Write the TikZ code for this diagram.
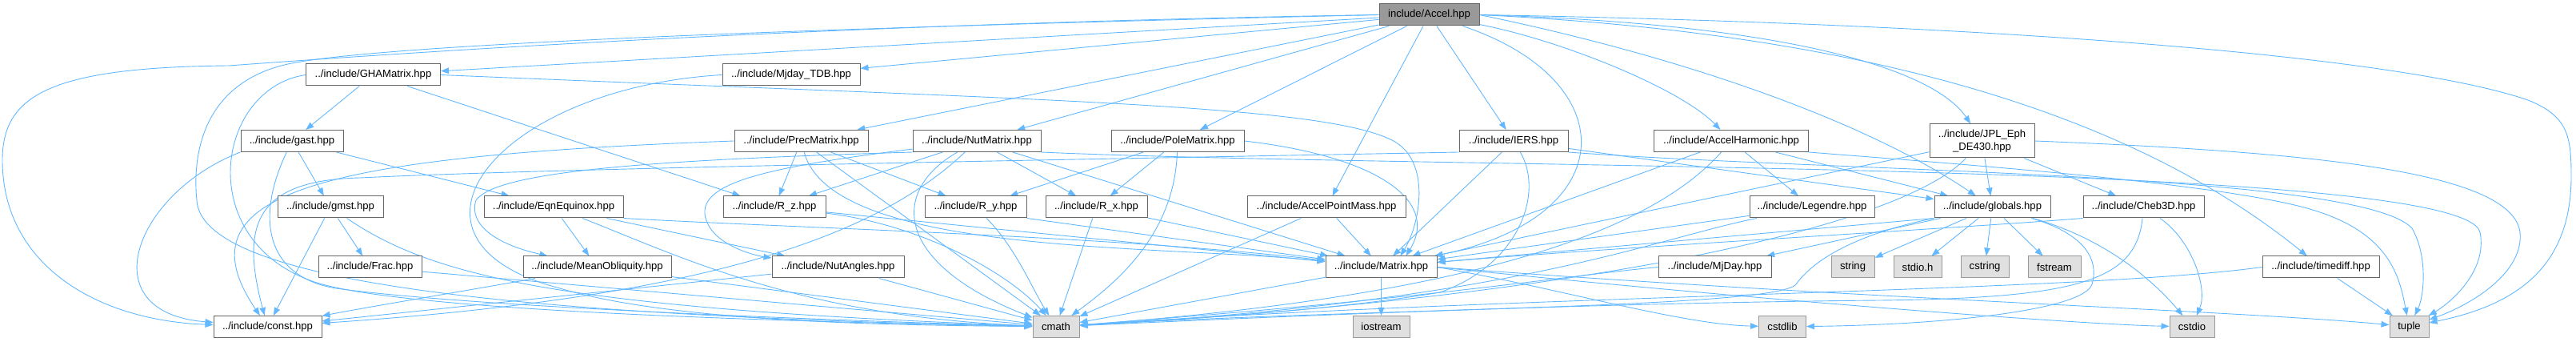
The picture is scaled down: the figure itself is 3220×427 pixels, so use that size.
\documentclass[tikz,border=0pt]{standalone}
\usepackage{fontspec}
\setmainfont{Liberation Sans}
\usetikzlibrary{arrows.meta,backgrounds}
\definecolor{edgec}{HTML}{63B8FF}
\definecolor{bord}{HTML}{666666}
\definecolor{sysbord}{HTML}{999999}
\definecolor{sysfill}{HTML}{E0E0E0}
\definecolor{rootfill}{HTML}{999999}
\begin{document}
\begin{tikzpicture}[x=1pt,y=-1pt,
  nd/.style={draw=bord, fill=white, line width=1pt, inner sep=0pt, minimum height=27pt, font=\fontsize{13.1}{16}\selectfont, text=black},
  sysn/.style={nd, draw=sysbord, fill=sysfill},
  rootn/.style={nd, fill=rootfill},
  edge/.style={draw=edgec, line width=0.9pt, -{Triangle[length=10pt,width=7.5pt]}}]
\useasboundingbox (0,0) rectangle (3220,427);
% nodes
\node[rootn, minimum width=125pt] (Accel) at (1786.5,18.5) {include/Accel.hpp};
\node[nd, minimum width=168pt] (GHA) at (466.5,93.5) {../include/GHAMatrix.hpp};
\node[nd, minimum width=172pt] (Mjday) at (989,93.5) {../include/Mjday\_TDB.hpp};
\node[nd, minimum width=128pt] (gast) at (365,176) {../include/gast.hpp};
\node[nd, minimum width=167pt] (Prec) at (1001.5,176) {../include/PrecMatrix.hpp};
\node[nd, minimum width=160pt] (Nut) at (1221,176) {../include/NutMatrix.hpp};
\node[nd, minimum width=166pt] (Pole) at (1472,176) {../include/PoleMatrix.hpp};
\node[nd, minimum width=136pt] (IERS) at (1892,176) {../include/IERS.hpp};
\node[nd, minimum width=193pt] (AH) at (2164,176) {../include/AccelHarmonic.hpp};
\node[nd, minimum width=131pt, minimum height=42pt, align=center] (JPL) at (2477.5,176) {../include/JPL\_Eph\\\_DE430.hpp};
\node[nd, minimum width=132pt] (gmst) at (413,258.5) {../include/gmst.hpp};
\node[nd, minimum width=174pt] (Eqn) at (692,258.5) {../include/EqnEquinox.hpp};
\node[nd, minimum width=128pt] (Rz) at (968,258.5) {../include/R\_z.hpp};
\node[nd, minimum width=127pt] (Ry) at (1219.5,258.5) {../include/R\_y.hpp};
\node[nd, minimum width=127pt] (Rx) at (1370.5,258.5) {../include/R\_x.hpp};
\node[nd, minimum width=198pt] (APM) at (1658,258.5) {../include/AccelPointMass.hpp};
\node[nd, minimum width=156pt] (Leg) at (2265,258.5) {../include/Legendre.hpp};
\node[nd, minimum width=145pt] (glob) at (2490.5,258.5) {../include/globals.hpp};
\node[nd, minimum width=151pt] (Cheb) at (2679.5,258.5) {../include/Cheb3D.hpp};
\node[nd, minimum width=129pt] (Frac) at (462.5,333.5) {../include/Frac.hpp};
\node[nd, minimum width=185pt] (MeanOb) at (746.5,333.5) {../include/MeanObliquity.hpp};
\node[nd, minimum width=165pt] (NutAng) at (1047.5,333.5) {../include/NutAngles.hpp};
\node[nd, minimum width=139pt] (Matrix) at (1726.5,333.5) {../include/Matrix.hpp};
\node[nd, minimum width=141pt] (MjDay) at (2143.5,333.5) {../include/MjDay.hpp};
\node[sysn, minimum width=54pt] (stringn) at (2316,333.5) {string};
\node[sysn, minimum width=60pt] (stdioh) at (2397,333.5) {stdio.h};
\node[sysn, minimum width=60pt] (cstring) at (2481,333.5) {cstring};
\node[sysn, minimum width=66pt] (fstream) at (2568,333.5) {fstream};
\node[nd, minimum width=146pt] (timediff) at (2901,333.5) {../include/timediff.hpp};
\node[nd, minimum width=135pt] (constn) at (334.5,408) {../include/const.hpp};
\node[sysn, minimum width=58pt] (cmath) at (1320,408) {cmath};
\node[sysn, minimum width=71pt] (iostream) at (1726.5,408) {iostream};
\node[sysn, minimum width=59pt] (cstdlib) at (2228,408) {cstdlib};
\node[sysn, minimum width=56pt] (cstdio) at (2740,408) {cstdio};
\node[sysn, minimum width=49pt] (tuple) at (3011.5,408) {tuple};
\begin{pgfonlayer}{background}
% Accel
\draw[edge] (Accel) -- (GHA);
\draw[edge] (Accel) -- (Mjday);
\draw[edge] (Accel) -- (Prec);
\draw[edge] (Accel) -- (Nut);
\draw[edge] (Accel) -- (Pole);
\draw[edge] (Accel) -- (APM);
\draw[edge] (Accel) -- (IERS);
\draw[edge] (Accel) .. controls (2030,100) and (2030,270) .. (Matrix);
\draw[edge] (Accel) .. controls (1950,50) and (2100,110) .. (AH);
\draw[edge] (Accel.east) .. controls (2250,30) and (2420,90) .. (JPL);
\draw[edge] (Accel.east) .. controls (2100,70) and (2330,150) .. (glob);
\draw[edge] (Accel.east) .. controls (2300,40) and (2650,130) .. (timediff);
\draw[edge] (Accel.east) .. controls (2500,30) and (3000,70) .. (3160,125) .. controls (3210,145) and (3214,170) .. (3214,220) .. controls (3214,330) and (3150,380) .. (tuple);
\draw[edge] (Accel.west) .. controls (1000,30) and (450,70) .. (286,82) .. controls (60,84) and (3,120) .. (3,200) .. controls (3,330) and (120,400) .. (constn);
\draw[edge] (Accel.west) .. controls (1000,35) and (500,55) .. (370,78) .. controls (255,98) and (240,190) .. (246,250) .. controls (252,360) and (700,395) .. (cmath);
% GHAMatrix
\draw[edge] (GHA) -- (gast);
\draw[edge] (GHA) -- (Rz);
\draw[edge] (GHA.east) .. controls (1300,125) and (1650,130) .. (1740,175) .. controls (1790,200) and (1775,280) .. ([xshift=-46pt]Matrix.north east);
\draw[edge] (GHA.west) .. controls (270,110) and (240,300) .. (393,352) .. controls (503,389) and (1000,402) .. (cmath);
% Mjday_TDB
\draw[edge] (Mjday.west) .. controls (620,110) and (470,300) .. (700,360) .. controls (850,405) and (1150,406) .. (cmath);
% gast
\draw[edge] (gast) -- (gmst);
\draw[edge] (gast) -- (Eqn);
\draw[edge] (gast.south west) .. controls (170,240) and (110,390) .. (constn);
\draw[edge] (gast) .. controls (320,270) and (330,345) .. (420,360) .. controls (600,385) and (1100,402) .. (cmath);
% gmst
\draw[edge] (gmst) -- (Frac);
\draw[edge] (gmst) -- (constn);
\draw[edge] (gmst) .. controls (540,345) and (700,385) .. (cmath);
% Frac
\draw[edge] (Frac) -- (cmath);
% PrecMatrix
\draw[edge] (Prec) -- (Rz);
\draw[edge] (Prec) -- (Ry);
\draw[edge] (Prec) -- (cmath);
\draw[edge] (Prec) .. controls (1040,320) and (1450,305) .. (Matrix);
\draw[edge] (Prec.west) .. controls (400,195) and (220,240) .. (constn);
% NutMatrix
\draw[edge] (Nut) -- (Rz);
\draw[edge] (Nut) -- (Rx);
\draw[edge] (Nut) -- (Matrix);
\draw[edge] (Nut) .. controls (950,210) and (860,230) .. (885,280) .. controls (900,310) and (950,320) .. (NutAng);
\draw[edge] (Nut.south west) .. controls (800,200) and (620,215) .. (595,250) .. controls (585,280) and (620,305) .. (MeanOb);
\draw[edge] (Nut) .. controls (1110,240) and (1120,330) .. (cmath);
\draw[edge] (Nut) .. controls (1100,290) and (900,370) .. (constn);
\draw[edge] (Nut.south east) .. controls (1800,212) and (3080,200) .. (3100,290) .. controls (3110,340) and (3060,380) .. (tuple);
% PoleMatrix
\draw[edge] (Pole) -- (Ry);
\draw[edge] (Pole) -- (Rx);
\draw[edge] (Pole.east) .. controls (1720,195) and (1800,250) .. ([xshift=-39pt]Matrix.north east);
\draw[edge] (Pole) .. controls (1468,290) and (1400,350) .. (cmath);
% EqnEquinox
\draw[edge] (Eqn) -- (MeanOb);
\draw[edge] (Eqn) -- (NutAng);
\draw[edge] (Eqn) .. controls (850,320) and (1000,395) .. (cmath);
\draw[edge] (Eqn.south east) .. controls (1000,285) and (1400,295) .. (Matrix);
% MeanObliquity, NutAngles
\draw[edge] (MeanOb) .. controls (600,360) and (450,385) .. (constn);
\draw[edge] (MeanOb) -- (cmath);
\draw[edge] (NutAng) -- (constn);
\draw[edge] (NutAng) -- (cmath);
% rotations
\draw[edge] (Rz) -- (Matrix);
\draw[edge] (Rz) .. controls (1150,280) and (1260,340) .. (cmath);
\draw[edge] (Ry.south east) -- (Matrix);
\draw[edge] (Ry) .. controls (1270,310) and (1290,360) .. (cmath);
\draw[edge] (Rx) -- (Matrix);
\draw[edge] (Rx) -- (cmath);
% AccelPointMass
\draw[edge] (APM) -- (Matrix);
\draw[edge] (APM) -- (cmath);
% IERS
\draw[edge] (IERS) -- (Matrix);
\draw[edge] (IERS) -- (glob);
\draw[edge] (IERS) .. controls (1930,240) and (1900,330) .. (1800,365) .. controls (1650,390) and (1450,400) .. (cmath);
\draw[edge] (IERS.south west) .. controls (1300,200) and (700,210) .. (450,222) .. controls (320,225) and (300,280) .. (constn);
\draw[edge] (IERS.south east) .. controls (2300,215) and (2950,215) .. (3015,285) .. controls (3035,320) and (3030,370) .. (tuple);
% AccelHarmonic
\draw[edge] (AH) -- (Leg);
\draw[edge] (AH) -- (glob);
\draw[edge] (AH) -- (Matrix);
\draw[edge] (AH) .. controls (2080,270) and (1900,365) .. (cmath);
\draw[edge] (AH.south east) .. controls (2450,205) and (2800,230) .. (2900,265) .. controls (2990,295) and (3000,350) .. (tuple);
% JPL
\draw[edge] (JPL) -- (glob);
\draw[edge] (JPL) -- (Cheb);
\draw[edge] (JPL) -- (Matrix);
\draw[edge] (JPL) .. controls (2380,280) and (2000,370) .. (cmath);
\draw[edge] (JPL.east) .. controls (2900,190) and (3140,215) .. (3150,290) .. controls (3155,340) and (3090,380) .. (tuple);
% globals
\draw[edge] (glob) -- (stringn);
\draw[edge] (glob) -- (stdioh);
\draw[edge] (glob) -- (cstring);
\draw[edge] (glob) -- (fstream);
\draw[edge] (glob) -- (MjDay);
\draw[edge] (glob.south west) -- (Matrix);
\draw[edge] (glob.south west) .. controls (2330,290) and (2270,320) .. (2245,355) .. controls (2220,385) and (1700,385) .. (cmath);
\draw[edge] (glob) .. controls (2600,290) and (2625,320) .. (2615,355) .. controls (2605,385) and (2450,405) .. (cstdlib);
\draw[edge] (glob) .. controls (2640,300) and (2700,360) .. (cstdio);
% Legendre
\draw[edge] (Leg) -- (Matrix);
\draw[edge] (Leg) .. controls (2060,300) and (1900,375) .. (cmath);
% Cheb3D
\draw[edge] (Cheb.south west) .. controls (2450,285) and (2000,310) .. (Matrix);
\draw[edge] (Cheb) .. controls (2740,300) and (2760,360) .. (cstdio);
\draw[edge] (Cheb) .. controls (2670,350) and (2600,372) .. (2350,375) .. controls (2000,378) and (1600,395) .. (cmath);
% MjDay
\draw[edge] (MjDay.west) .. controls (1950,345) and (1800,372) .. (cmath);
% timediff
\draw[edge] (timediff) -- (tuple);
\draw[edge] (timediff.west) .. controls (2600,365) and (1900,368) .. (cmath);
% Matrix
\draw[edge] (Matrix) -- (iostream);
\draw[edge] (Matrix) -- (cmath);
\draw[edge] (Matrix.east) .. controls (1950,360) and (2100,405) .. (cstdlib);
\draw[edge] (Matrix.east) .. controls (2200,375) and (2600,405) .. (cstdio);
\draw[edge] (Matrix.east) .. controls (2300,372) and (2800,388) .. (tuple);
\end{pgfonlayer}
\end{tikzpicture}
\end{document}
